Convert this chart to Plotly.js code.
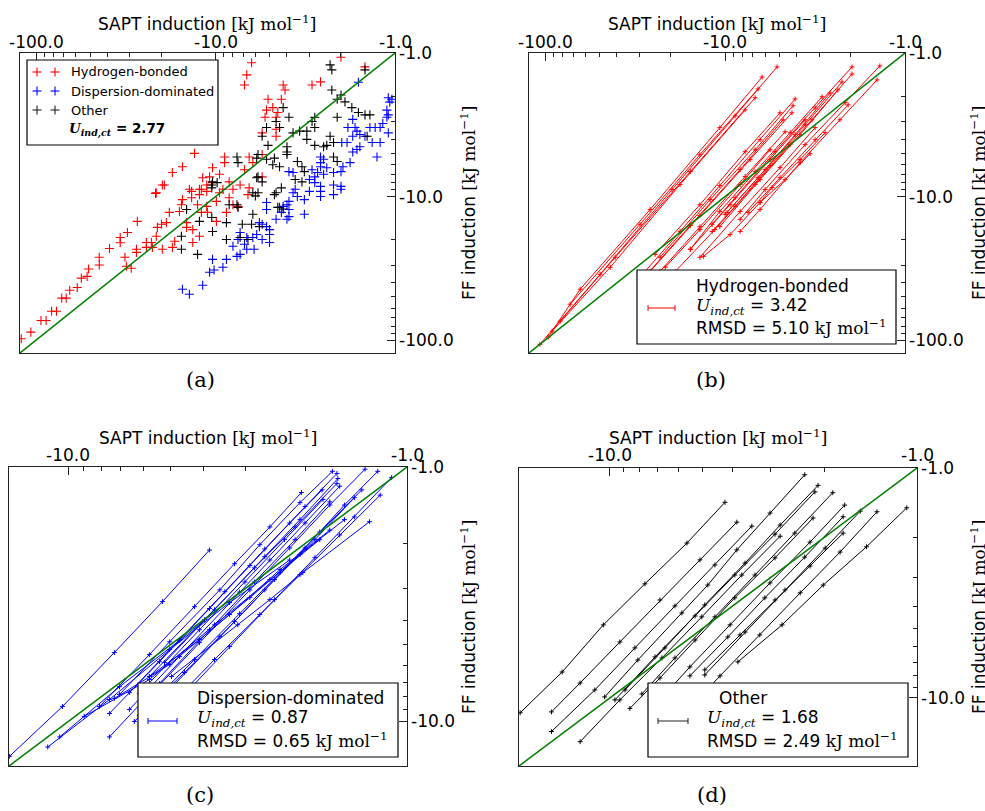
<!DOCTYPE html>
<html><head><meta charset="utf-8">
<script src="https://cdn.plot.ly/plotly-3.0.1.min.js"></script>
<style>html,body{margin:0;padding:0;background:#fff}#chart{width:985px;height:811px}</style>
</head><body><div id="chart"></div>
<script>
// ---------- Panel (a): all complexes, SAPT vs FF induction (kJ/mol) ----------
const hbSapt = [-2.0,-1.47,-6.3,-6.7,-6.9,-4.2,-4.1,-2.9,-2.6,-5.1,-4.3,-4.8,-5.2,-4.5,-5.3,-4.6,-4.6,-4.6,-5.5,-13.1,
 -17.4,-15.3,-10.4,-8.9,-8.9,-6.5,-5.5,-6.2,-6.9,-10.8,-11.8,-9.5,-8.4,-21.4,-19.3,-14.0,-12.3,-11.2,-5.5,-13.6,
 -121,-107,-94,-88,-82,-77,-72,-68,-65,-59,-56,-52,-51,-44.5,-44.5,-39,-34,-34,-31,-32,
 -31.4,-29.5,-27.6,-27.6,-24.3,-24.3,-27.3,-21.6,-19.8,-22.8,-21.4,-21.1,-20,-18.8,-22.5,-19.8,-17.4,-16.9,-18.1,-15.9,
 -15.5,-15.3,-14.5,-14.5,-13.4,-13.6,-12.3,-12,-11.2,-10.4,-12.6,-11.2,-11.1,-12,-12.3,-13.4,-9.9,-9.5,-9.1,-9.9,
 -8.7,-8.4,-8.0,-7.3,-8.0,-7.5,-6.5,-6.6];
const hbFF = [-1.07,-1.25,-1.17,-1.42,-1.67,-1.67,-1.81,-1.67,-1.59,-2.1,-2.1,-2.4,-2.5,-2.6,-2.8,-2.8,-3.4,-3.8,-3.6,-5.0,
 -6.8,-6.2,-6.3,-5.3,-5.8,-5.3,-5.1,-5.8,-6.5,-7.3,-7.4,-7.0,-7.9,-9.4,-8.3,-8.9,-8.9,-9.2,-7.3,-10.2,
 -98,-88,-73,-73,-63,-63,-51,-51,-45,-43,-37,-36,-32,-30,-26.5,-23,-21,-19.3,-17.8,-26.5,
 -30.6,-31.6,-23.3,-24.5,-22.6,-20.9,-14.9,-9.5,-8.3,-20.9,-18.9,-16.4,-15.6,-15.2,-22.6,-23.3,-22.6,-20.5,-12.9,-12.7,
 -11.4,-10.5,-15.2,-16.4,-17,-9.2,-9.7,-8.9,-8.3,-8.0,-11.4,-11.7,-12.9,-12.9,-18.9,-20.9,-10.8,-9.4,-8.9,-14.9,
 -12.9,-10.2,-8.9,-8.3,-11.4,-11.7,-8.7,-9.7];
const dispSapt = [-1.6,-1.09,-1.04,-1.07,-1.11,-1.09,-1.11,-1.17,-1.21,-1.29,-1.38,-1.09,-1.72,-1.67,-1.63,-1.57,-1.47,-1.83,-1.72,-1.21,
 -1.34,-1.57,-1.63,-1.72,-1.85,-1.98,-1.26,-1.78,-1.95,-2.0,-2.6,-2.5,-2.6,-2.6,-2.4,-2.9,-2.7,-2.8,-2.5,-2.2,
 -2.2,-2.0,-2.2,-3.0,-2.8,-2.6,-2.6,-3.7,-3.9,-3.6,-3.7,-3.5,-3.0,-2.6,-2.0,-3.2,-3.9,-4.0,-4.2,-4.4,
 -3.9,-4.3,-3.2,-3.9,-4.0,-4.6,-5.2,-5.2,-5.5,-5.2,-5.0,-5.0,-5.7,-5.9,-6.2,-5.5,-5.0,-6.7,-7.3,-7.5,
 -8.0,-6.9,-6.7,-6.1,-7.3,-7.6,-8.7,-10.4,-9.1,-10.8,-10.2,-11.8,-15.3,-14.0];
const dispFF = [-1.6,-2.05,-2.1,-2.2,-2.5,-2.7,-2.8,-3.1,-3.3,-3.3,-3.3,-3.6,-2.9,-3.3,-3.5,-3.7,-3.8,-3.3,-3.8,-4.2,
 -4.2,-4.5,-4.7,-4.9,-4.2,-4.2,-5.3,-5.8,-6.2,-6.7,-5.3,-5.5,-5.8,-6.2,-6.3,-6.5,-6.8,-7.3,-7.0,-6.8,
 -8.3,-8.9,-9.7,-7.6,-8.0,-8.5,-9.2,-6.8,-6.7,-8.9,-9.4,-10,-9.2,-10,-8.5,-10.5,-10.8,-11.4,-11.7,-11.9,
 -12.3,-12.9,-13.3,-13.8,-14.4,-14.4,-11.0,-12.3,-15.6,-16.2,-17,-18.4,-15.2,-18.4,-19.3,-19.9,-20.9,-19.3,-17.8,-19.9,
 -22.2,-21.5,-23.3,-23.3,-25.3,-26.1,-27.4,-27.4,-31.1,-33.7,-32.5,-41.5,-44.2,-47.9];
const otherSapt = [-2.3,-2.25,-1.47,-2.25,-2.0,-1.9,-2.1,-4.2,-3.9,-4.4,-4.6,-5.2,-5.5,-2.8,-2.9,-2.1,-1.74,-1.6,-1.47,-1.38,
 -1.43,-3.7,-3.4,-3.1,-2.8,-2.3,-2.4,-2.2,-2.5,-2.8,-3.1,-5.1,-4.0,-4.0,-5.8,-5.9,-5.2,-4.7,-4.8,-4.4,
 -4.0,-3.5,-3.3,-3.2,-7.6,-7.5,-5.8,-5.5,-5.9,-10.4,-10.5,-9.8,-4.3,-4.6,-6.2,-5.8,-3.6,-3.3,-2.2,-2.1,
 -7.6,-7.5,-8.4,-6.0,-4.7,-4.5,-4.2,-6.2,-7.1,-6.3,-5.7,-7.3,-6.6,-8.7,-8.7,-10.5,-10.4,-12.3,-12.6,-15.5,
 -15.5,-14.5,-10.5];
const otherFF = [-1.21,-1.31,-1.31,-1.81,-1.96,-2.19,-2.1,-2.4,-2.8,-3.3,-3.0,-3.3,-3.8,-2.8,-3.0,-2.8,-2.4,-2.6,-2.7,-2.7,
 -3.8,-3.6,-3.5,-3.5,-3.3,-3.8,-4.4,-4.2,-4.5,-4.4,-4.0,-4.4,-4.5,-4.9,-5.1,-5.4,-5.5,-5.4,-6.0,-6.2,
 -5.1,-5.7,-6.2,-6.7,-5.3,-5.8,-7.3,-7.9,-7.4,-7.9,-8.3,-8.0,-8.7,-9.4,-9.4,-9.4,-7.6,-7.9,-5.3,-5.7,
 -11.4,-11.9,-11.4,-9.9,-9.7,-11.9,-12.2,-13.3,-15.6,-15.6,-16.2,-19.3,-19.9,-19.9,-15.2,-14.0,-17.5,-14.9,-25.3,-18.9,
 -23.3,-12.3,-8.7];

// ---------- Panel (b): hydrogen-bonded dimers, one line per dimer ----------
const hbLineSapt = [
 [-5.14,-8.80,-19.7,-49.5,-107], [-6.23,-10.7,-26.1,-63.9,-96.2], [-6.56,-13.8,-29.7,-72.6], [-6.81,-15.6,-40.8,-82.5],
 [-7.74,-17.8,-43.5,-91.4], [-4.08,-6.39,-10.7,-17.8,-29.7], [-4.19,-6.81,-12.1,-23.0], [-4.25,-7.26,-13.8,-26.1],
 [-4.95,-7.74,-13.8,-24.5], [-4.76,-8.25,-15.6,-27.8], [-4.64,-7.74,-13.8,-23.0], [-2.89,-4.35,-6.81,-10.7,-15.6],
 [-2.36,-3.83,-6.39,-10.7], [-2.24,-3.59,-5.99,-9.75], [-1.97,-3.16,-5.27,-8.80,-11.8], [-1.97,-3.29,-5.62,-8.80,-11.8],
 [-1.38,-2.15,-3.59,-5.99,-8.25], [-1.43,-2.30,-3.83,-6.39,-8.25], [-2.07,-3.16,-4.95,-7.45], [-2.78,-3.83,-5.48,-6.39],
 [-3.37,-4.64,-6.39,-9.38,-13.2], [-2.61,-4.08,-6.56,-10.0], [-5.62,-8.25,-13.8,-21.5], [-3.59,-5.62,-9.38,-15.6],
 [-3.16,-4.95,-8.25,-13.8], [-4.35,-6.81,-11.4,-18.9]];
const hbLineFF = [
 [-1.25,-2.74,-8.94,-34.8,-107], [-1.47,-3.31,-12.3,-44.2,-95.3], [-1.78,-5.11,-15.6,-56.2], [-2.05,-6.70,-26.5,-73.8],
 [-2.49,-8.25,-31.1,-86.6], [-2.09,-4.02,-8.39,-17.5,-36.5], [-2.33,-4.72,-10.5,-26.5], [-2.61,-5.53,-13.6,-33.2],
 [-2.61,-4.87,-11.4,-25.3], [-2.92,-6.49,-15.9,-35.9], [-3.54,-7.26,-16.2,-33.2], [-2.02,-3.59,-6.70,-12.7,-23.3],
 [-1.81,-3.71,-7.62,-16.2], [-1.59,-3.16,-6.49,-12.9], [-1.25,-2.41,-4.87,-10.2,-15.6], [-1.40,-2.92,-6.09,-11.7,-17.5],
 [-1.23,-2.22,-4.35,-8.94,-14.4], [-1.54,-2.92,-5.81,-12.3,-17.5], [-2.30,-4.02,-7.39,-12.9], [-3.59,-5.53,-8.66,-11.0],
 [-5.03,-7.62,-11.0,-18.4,-26.1], [-1.90,-3.71,-7.39,-13.3], [-4.72,-8.25,-17.0,-31.1], [-2.92,-5.53,-11.4,-23.3],
 [-3.31,-6.29,-12.7,-26.5], [-4.35,-8.25,-17.0,-33.2]];

// ---------- Panel (c): dispersion-dominated dimers ----------
const dispLineSapt = [
 [-3.83,-5.27,-7.31,-10.4,-14.9], [-1.66,-2.07,-2.72,-3.57,-5.02,-7.06], [-1.61,-2.0,-2.63,-3.45,-4.69,-6.60],
 [-1.60,-2.07,-2.63,-3.70,-5.20], [-1.61,-2.14,-2.82,-3.96,-5.76], [-2.05,-2.54,-3.23,-4.24,-5.76,-8.09],
 [-1.78,-2.22,-2.91,-3.83,-5.38,-7.56], [-1.77,-2.30,-3.01,-4.10,-6.17], [-1.69,-2.14,-2.82,-3.83,-5.38,-7.56],
 [-1.58,-2.0,-2.54,-3.34,-4.69,-6.60], [-1.36,-1.81,-2.37,-3.12,-4.24,-6.17], [-1.43,-1.87,-2.46,-3.23,-4.54,-6.38],
 [-1.33,-1.69,-2.22,-2.91,-4.10,-5.76], [-1.22,-1.53,-2.0,-2.63,-3.57,-5.02], [-1.11,-1.43,-1.87,-2.46,-3.34,-4.69],
 [-1.20,-1.58,-2.07,-2.72,-3.70,-5.02], [-1.29,-2.03,-2.54,-3.16,-4.96], [-1.53,-2.07,-2.91,-4.10,-5.76],
 [-1.69,-2.37,-3.34,-5.02,-7.31], [-1.81,-2.54,-3.70,-5.76,-8.97], [-2.22,-3.34,-5.02,-7.56,-11.5], [-3.12,-4.69,-7.06,-10.6]];
const dispLineFF = [
 [-2.12,-3.38,-5.36,-8.73,-13.7], [-1.04,-1.38,-2.02,-3.04,-4.86,-7.84], [-1.06,-1.43,-2.10,-3.09,-4.77,-7.70],
 [-1.11,-1.61,-2.25,-3.64,-5.87], [-1.16,-1.72,-2.49,-3.98,-6.66], [-1.26,-1.72,-2.40,-3.54,-5.46,-8.73],
 [-1.23,-1.66,-2.44,-3.60,-5.82,-9.30], [-1.34,-1.93,-2.83,-4.36,-7.77], [-1.37,-1.93,-2.83,-4.36,-7.10,-11.5],
 [-1.19,-1.66,-2.32,-3.41,-5.56,-8.97], [-1.23,-1.80,-2.60,-3.77,-5.71,-9.47], [-1.32,-1.93,-2.77,-4.05,-6.42,-10.0],
 [-1.02,-1.41,-2.08,-3.04,-4.90,-7.91], [-1.04,-1.41,-2.08,-3.04,-4.64,-7.49], [-1.10,-1.57,-2.27,-3.32,-5.08,-8.20],
 [-1.29,-1.85,-2.65,-3.80,-5.71,-8.65], [-1.64,-2.60,-3.32,-4.17,-6.66], [-1.61,-2.21,-3.26,-4.77,-6.66],
 [-1.77,-2.53,-3.80,-5.97,-8.12], [-1.93,-2.77,-4.17,-6.84,-9.55], [-2.32,-3.41,-5.22,-8.20,-12.6], [-3.1,-4.8,-7.3,-11.5]];

// ---------- Panel (d): other dimers ----------
const otherLineSapt = [
 [-4.22,-5.61,-7.69,-10.5,-14.3,-19.6], [-3.86,-5.09,-6.87,-9.28,-12.5,-15.5], [-2.32,-3.01,-3.86,-4.80,-5.83,-8.11,-10.4],
 [-2.10,-2.79,-3.63,-4.91,-6.62,-8.93], [-2.15,-2.90,-3.92,-5.28,-7.13,-9.63], [-1.88,-2.50,-3.37,-4.55,-6.14,-7.87],
 [-1.72,-2.23,-3.01,-4.06,-5.49,-6.87], [-1.53,-1.99,-2.69,-3.63,-4.91], [-1.35,-1.78,-2.40,-3.25,-4.38,-5.49],
 [-1.08,-1.46,-2.02,-2.75,-3.83], [-2.18,-2.90,-3.92,-5.28,-6.87,-8.61], [-1.74,-2.32,-3.13,-4.13,-5.49],
 [-1.74,-2.23,-2.90,-3.77,-4.91], [-3.45,-4.55,-6.14,-8.29,-11.2,-15.5], [-2.79,-3.72,-5.02,-6.77,-9.28,-12.5]];
const otherLineFF = [
 [-1.41,-2.12,-3.19,-4.81,-7.71,-11.6], [-1.72,-2.51,-3.75,-5.71,-8.61,-11.5], [-1.07,-1.57,-2.27,-3.23,-4.27,-6.84,-9.90],
 [-1.19,-1.77,-2.59,-3.94,-6.06,-9.23], [-1.27,-1.94,-2.92,-4.40,-6.63,-10.2], [-1.28,-1.92,-2.92,-4.44,-6.70,-9.61],
 [-1.45,-2.10,-3.16,-4.81,-7.33,-10.2], [-1.54,-2.23,-3.39,-5.17,-7.94], [-1.55,-2.32,-3.49,-5.32,-8.02,-11.1],
 [-1.49,-2.20,-3.23,-4.81,-6.97], [-1.65,-2.46,-3.67,-5.60,-8.19,-11.1], [-1.63,-2.44,-3.67,-5.43,-8.02],
 [-1.92,-2.67,-3.75,-5.32,-7.55], [-1.79,-2.64,-3.98,-6.06,-9.23,-14.0], [-1.98,-2.92,-4.44,-6.70,-10.2,-15.5]];

// y = x reference line
const diagLine = [-1, -200];
// tick values / labels
const majorTicks = [-100, -10, -1];
const majorText = ['-100.0', '-10.0', '-1.0'];
const minorTicksAB = [-2,-3,-4,-5,-6,-7,-8,-9,-20,-30,-40,-50,-60,-70,-80,-90];
const minorTicksCD = [-2,-3,-4,-5,-6,-7,-8,-9];
// legend / statistics text
const groupNames = ['Hydrogen-bonded', 'Dispersion-dominated', 'Other'];
const uAll = '2.77';
const uGroup = ['3.42', '0.87', '1.68'];
const rmsdGroup = ['5.10', '0.65', '2.49'];

// ------------------------------------------------------------------
const W = 985, H = 811;
const X = p => p / W, Y = p => 1 - p / H;
const SANS = 'DejaVu Sans', SERIF = 'DejaVu Serif';
const RED = '#ff0000', BLUE = '#0000ff', BLACK = '#000000', GREEN = '#008000';
const mag = a => a.map(v => v == null ? null : Math.abs(v));
const join = ls => { const o = []; ls.forEach((l, i) => { if (i) o.push(null); o.push(...l); }); return o; };

const traces = [];
function scat(s, f, c) {
  return {type:'scatter', mode:'markers', x:mag(s), y:mag(f), xaxis:'x', yaxis:'y',
    marker:{symbol:'cross-thin', size:6.5, color:c, line:{color:c, width:1.1}}, hoverinfo:'skip', showlegend:false};
}
function lns(s, f, c, xa, ya) {
  return {type:'scatter', mode:'lines+markers', x:mag(join(s)), y:mag(join(f)), xaxis:xa, yaxis:ya, connectgaps:false,
    line:{color:c, width:1}, marker:{symbol:'cross-thin', size:3.5, color:c, line:{color:c, width:1}}, hoverinfo:'skip', showlegend:false};
}
function diag(xa, ya) {
  return {type:'scatter', mode:'lines', x:mag(diagLine), y:mag(diagLine), xaxis:xa, yaxis:ya,
    line:{color:GREEN, width:1.5}, hoverinfo:'skip', showlegend:false};
}
traces.push(scat(hbSapt, hbFF, RED), scat(dispSapt, dispFF, BLUE), scat(otherSapt, otherFF, BLACK), diag('x','y'));
traces.push(lns(hbLineSapt, hbLineFF, RED, 'x2', 'y2'), diag('x2','y2'));
traces.push(lns(dispLineSapt, dispLineFF, BLUE, 'x3', 'y3'), diag('x3','y3'));
traces.push(lns(otherLineSapt, otherLineFF, BLACK, 'x4', 'y4'), diag('x4','y4'));

const panels = [
  {x0:20, x1:395, y0:53, y1:353, r:2.09, minor:minorTicksAB, n:3, lab:42},
  {x0:529, x1:905, y0:53, y1:353, r:2.09, minor:minorTicksAB, n:3, lab:42},
  {x0:9, x1:407, y0:467, y1:766, r:1.175, minor:minorTicksCD, n:2, lab:455},
  {x0:519, x1:917, y0:468, y1:766, r:1.296, minor:minorTicksCD, n:2, lab:455}
];
const layout = {width:W, height:H, margin:{l:0, r:0, t:0, b:0}, paper_bgcolor:'#fff', plot_bgcolor:'#fff',
  showlegend:false, annotations:[], shapes:[], font:{family:SANS, color:'#000'}};
function ann(px, py, text, size, extra) {
  return Object.assign({xref:'paper', yref:'paper', x:X(px), y:Y(py), text:text, showarrow:false,
    xanchor:'left', yanchor:'middle', font:{family:SANS, size:size, color:'#000'}}, extra || {});
}
panels.forEach((p, i) => {
  const k = i ? String(i + 1) : '';
  const tv = mag(majorTicks.slice(3 - p.n)), tt = majorText.slice(3 - p.n);
  const common = {type:'log', showgrid:false, zeroline:false, showline:true, mirror:true, linecolor:'#222', linewidth:1.3,
    ticks:'inside', ticklen:8, tickwidth:1, tickcolor:'#222', tickmode:'array', tickvals:tv, showticklabels:false,
    minor:{ticks:'inside', ticklen:4, tickwidth:1, tickcolor:'#222', tickmode:'array', tickvals:mag(p.minor), showgrid:false},
    fixedrange:true};
  layout['xaxis' + k] = Object.assign({}, common, {domain:[X(p.x0), X(p.x1)], range:[p.r, 0], anchor:'y' + k, side:'top'});
  layout['yaxis' + k] = Object.assign({}, common, {domain:[Y(p.y1), Y(p.y0)], range:[p.r, 0], anchor:'x' + k, side:'right'});
  // tick labels placed on the axis scale (log axes take log10 positions)
  tv.forEach((v, j) => {
    layout.annotations.push({xref:'x' + k, yref:'paper', x:Math.log10(v), y:Y(p.lab), text:tt[j], showarrow:false,
      xanchor:'center', yanchor:'middle', font:{family:SANS, size:17, color:'#000'}});
    layout.annotations.push({xref:'paper', yref:'y' + k, x:X(p.x1 + 2), y:Math.log10(v), text:tt[j], showarrow:false,
      xanchor:'left', yanchor:'middle', font:{family:SANS, size:17, color:'#000'}});
  });
});

const unit = '<span style="font-family:DejaVu Serif">[kJ mol<sup>−1</sup>]</span>';
const unitNB = '<span style="font-family:DejaVu Serif">kJ mol<sup>−1</sup></span>';
const uSym = '<span style="font-family:DejaVu Serif"><i>U</i><sub><i>ind,ct</i></sub></span>';
// axis titles
[[207, 23], [717, 23], [208, 437], [718, 437]].forEach(c =>
  layout.annotations.push(ann(c[0], c[1], 'SAPT induction ' + unit, 17, {xanchor:'center'})));
[[468, 203], [978, 203], [468, 617], [978, 617]].forEach(c =>
  layout.annotations.push(ann(c[0], c[1], 'FF induction ' + unit, 17, {xanchor:'center', textangle:-90})));
// panel letters
[['(a)', 200, 380], ['(b)', 711, 380], ['(c)', 200, 795], ['(d)', 712, 795]].forEach(c =>
  layout.annotations.push(ann(c[1], c[2], c[0], 21, {xanchor:'center', font:{family:SERIF, size:21, color:'#000'}})));

function seg(x0, y0, x1, y1, c, w) {
  return {type:'line', xref:'paper', yref:'paper', x0:X(x0), y0:Y(y0), x1:X(x1), y1:Y(y1), line:{color:c, width:w || 1}, layer:'above'};
}
function box(x0, y0, x1, y1) {
  return {type:'rect', xref:'paper', yref:'paper', x0:X(x0), y0:Y(y1), x1:X(x1), y1:Y(y0),
    line:{color:'#000', width:1.2}, fillcolor:'#fff', layer:'above'};
}
function plus(x, y, c, r) { return [seg(x - r, y, x + r, y, c, 1.1), seg(x, y - r, x, y + r, c, 1.1)]; }

// legend (a)
layout.shapes.push(box(27, 60, 218, 145));
[[RED, 72], [BLUE, 91], ['#222', 110]].forEach((e, i) => {
  layout.shapes.push(...plus(37, e[1], e[0], 4.5), ...plus(55, e[1], e[0], 4.5));
  layout.annotations.push(ann(69, e[1], groupNames[i], 13));
});
layout.annotations.push(ann(67, 129, '<b>' + uSym + ' = ' + uAll + '</b>', 13.5));

// legends (b), (c), (d)
const legs = [
  {bx:[637, 270, 896, 344], lx:[648, 675], ly:308, tx:694, nameX:694, rows:[286, 306, 327], c:RED},
  {bx:[138, 683, 398, 757], lx:[148, 177], ly:721, tx:195, nameX:195, rows:[698, 718, 740], c:BLUE},
  {bx:[648, 683, 908, 757], lx:[658, 688], ly:721, tx:705, nameX:717, rows:[698, 718, 740], c:'#222'}
];
legs.forEach((g, i) => {
  layout.shapes.push(box(...g.bx));
  layout.shapes.push(seg(g.lx[0], g.ly, g.lx[1], g.ly, g.c, 1));
  layout.shapes.push(seg(g.lx[0], g.ly - 3, g.lx[0], g.ly + 3, g.c, 1), seg(g.lx[1], g.ly - 3, g.lx[1], g.ly + 3, g.c, 1));
  layout.annotations.push(ann(g.nameX, g.rows[0], groupNames[i], 17));
  layout.annotations.push(ann(g.tx, g.rows[1], uSym + ' = ' + uGroup[i], 17));
  layout.annotations.push(ann(g.tx, g.rows[2], 'RMSD = ' + rmsdGroup[i] + ' ' + unitNB, 17));
});

Plotly.newPlot('chart', traces, layout, {staticPlot:true, displayModeBar:false});
</script>
</body></html>
